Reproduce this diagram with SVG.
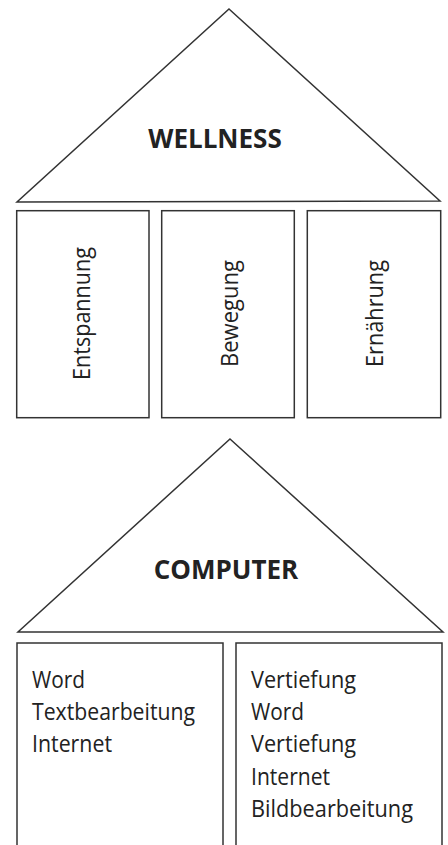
<svg xmlns="http://www.w3.org/2000/svg" width="448" height="845" viewBox="0 0 448 845">
<style>
.shape{fill:#fff;stroke:#333;stroke-width:1.5;stroke-linejoin:miter}
.title{font-family:"Open Sans","Liberation Sans",sans-serif;font-weight:bold;font-size:26px;fill:#222;text-anchor:middle}
.lbl{font-family:"Open Sans","Liberation Sans",sans-serif;font-size:24px;fill:#222}
.vlbl{font-family:"Open Sans","Liberation Sans",sans-serif;font-size:24px;fill:#222;text-anchor:middle}
</style>
<rect width="448" height="845" fill="#fff"/>
<g id="roof-wellness">
<polygon class="shape" points="229,9 440,201 17,202"/>
<text class="title" x="215" y="148">WELLNESS</text>
</g>
<g id="pillar-entspannung">
<rect class="shape" x="16.7" y="210.7" width="132.3" height="207"/>
<text class="vlbl" transform="translate(90,313.5) rotate(-90)" textLength="133" lengthAdjust="spacingAndGlyphs">Entspannung</text>
</g>
<g id="pillar-bewegung">
<rect class="shape" x="161.7" y="210.7" width="132.6" height="207"/>
<text class="vlbl" transform="translate(238,313.5) rotate(-90)" textLength="107" lengthAdjust="spacingAndGlyphs">Bewegung</text>
</g>
<g id="pillar-ernaehrung">
<rect class="shape" x="307.3" y="210.7" width="133.4" height="207"/>
<text class="vlbl" transform="translate(383,313.5) rotate(-90)" textLength="107" lengthAdjust="spacingAndGlyphs">Ernährung</text>
</g>
<g id="roof-computer">
<polygon class="shape" points="230,439 443,632 18,632"/>
<text class="title" x="226" y="579">COMPUTER</text>
</g>
<g id="pillar-left">
<rect class="shape" x="17" y="643" width="206" height="220"/>
<text class="lbl" x="32" y="688" textLength="53" lengthAdjust="spacingAndGlyphs">Word</text>
<text class="lbl" x="32" y="720" textLength="163" lengthAdjust="spacingAndGlyphs">Textbearbeitung</text>
<text class="lbl" x="32" y="752" textLength="80" lengthAdjust="spacingAndGlyphs">Internet</text>
</g>
<g id="pillar-right">
<rect class="shape" x="236" y="643" width="206" height="220"/>
<text class="lbl" x="251" y="688" textLength="105" lengthAdjust="spacingAndGlyphs">Vertiefung</text>
<text class="lbl" x="251" y="720" textLength="53" lengthAdjust="spacingAndGlyphs">Word</text>
<text class="lbl" x="251" y="752" textLength="105" lengthAdjust="spacingAndGlyphs">Vertiefung</text>
<text class="lbl" x="251" y="785" textLength="79" lengthAdjust="spacingAndGlyphs">Internet</text>
<text class="lbl" x="251" y="817" textLength="162" lengthAdjust="spacingAndGlyphs">Bildbearbeitung</text>
</g>
<g id="connectors"></g>
</svg>
